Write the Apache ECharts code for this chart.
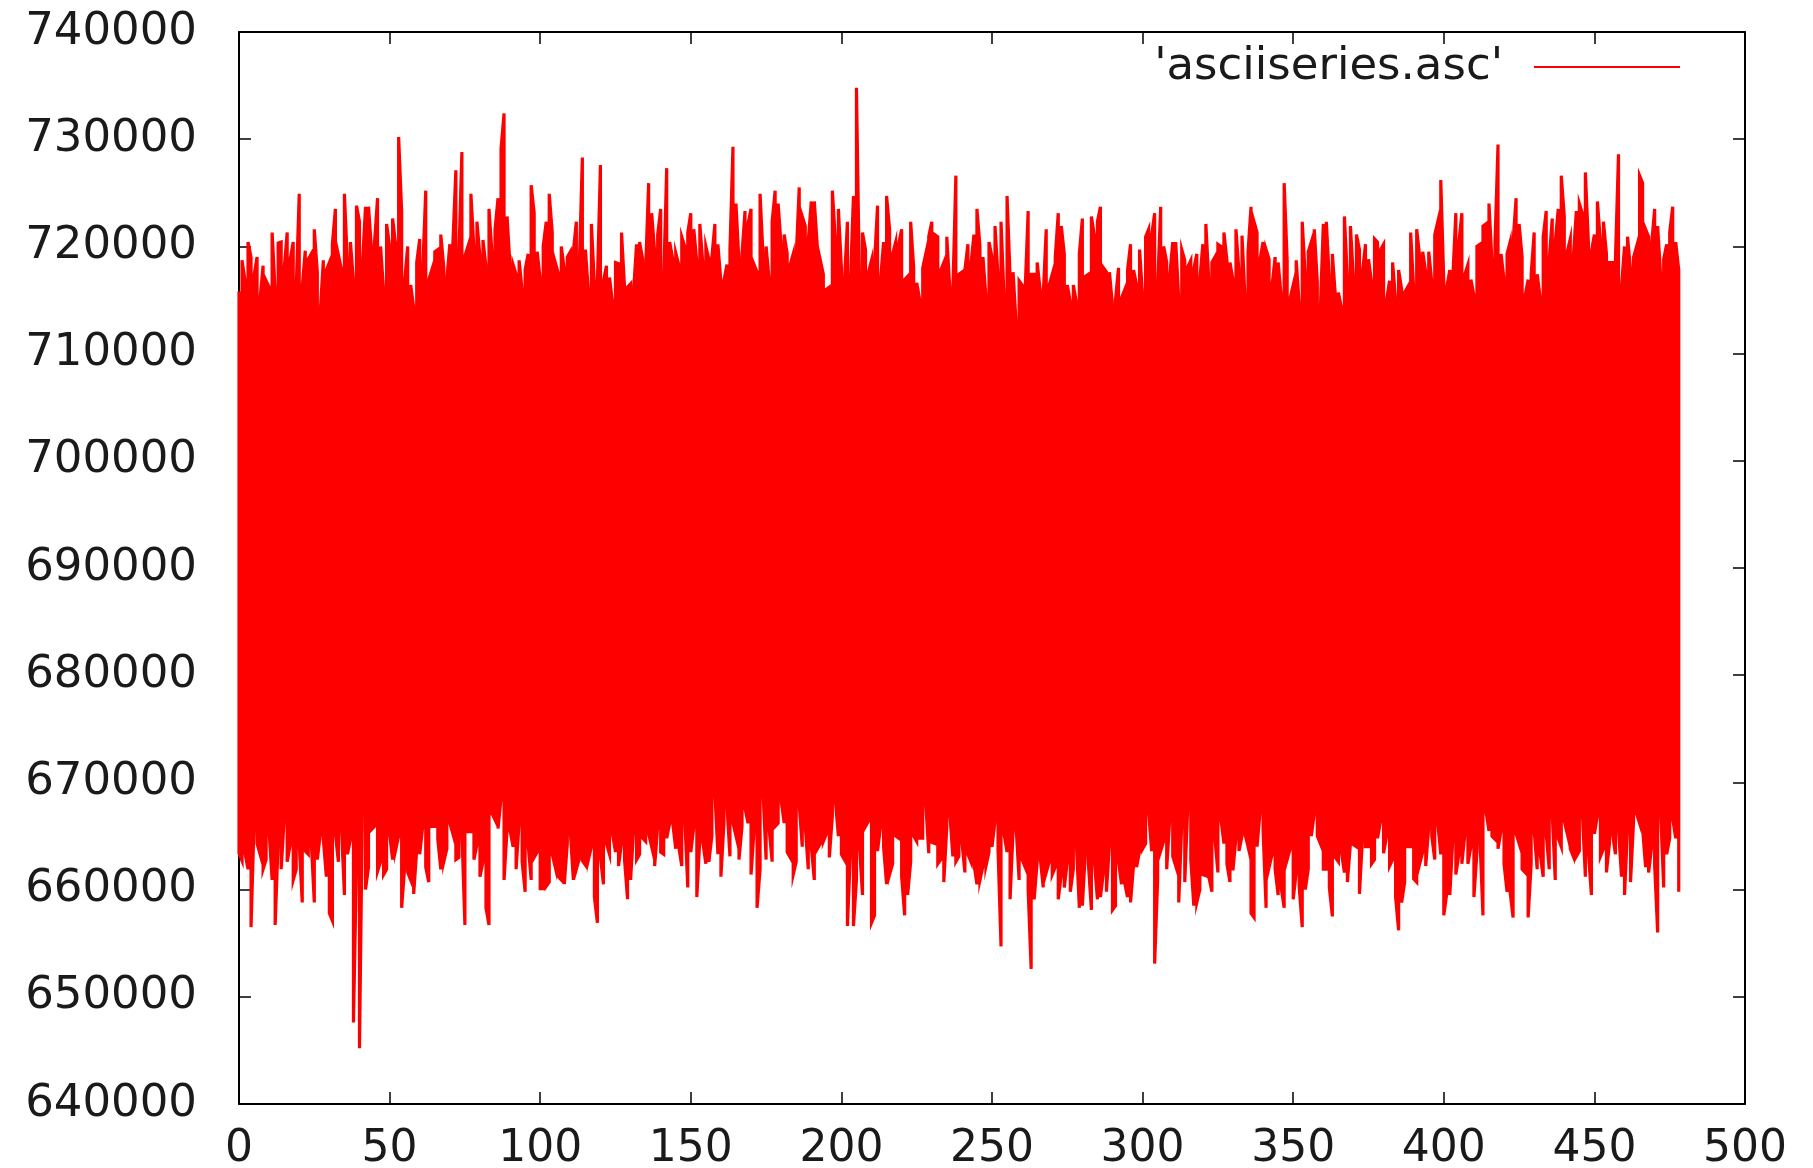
<!DOCTYPE html>
<html>
<head>
<meta charset="utf-8">
<script src="https://cdn.jsdelivr.net/npm/echarts@6/dist/echarts.min.js"></script>
<style>
  html, body { margin: 0; padding: 0; background: #ffffff; }
  #chart { width: 1813px; height: 1168px; }
</style>
</head>
<body>
<div id="chart"></div>
<script>
// ---- data (values in thousands) ----
const seriesName = "'asciiseries.asc'";
const xStart = 0;          // first sample index
const valueScale = 1000;   // arrays below are in thousands

// upper extent of the trace at each sample index 0..478
const highK = [
  715.8, 718.7, 716.8, 720.4, 719.0, 717.3, 719.0, 715.1, 718.2, 716.8,
  716.2, 721.3, 715.8, 720.3, 720.4, 717.9, 721.3, 718.8, 720.4, 716.2,
  724.9, 716.2, 719.6, 718.8, 719.3, 721.6, 717.6, 714.0, 718.7, 717.8,
  718.5, 720.2, 723.5, 719.2, 717.9, 724.9, 718.4, 720.4, 716.7, 723.8,
  722.3, 718.4, 723.7, 723.7, 719.7, 720.4, 724.5, 720.0, 715.9, 722.1,
  720.0, 722.6, 720.2, 730.2, 723.3, 716.8, 720.0, 716.4, 714.3, 718.5,
  720.7, 717.9, 725.2, 716.9, 717.8, 719.5, 719.7, 721.1, 718.0, 716.9,
  720.2, 720.2, 727.1, 719.1, 728.8, 719.1, 720.0, 724.9, 719.7, 722.3,
  719.0, 720.6, 718.1, 723.5, 719.3, 721.6, 724.5, 729.1, 732.4, 722.8,
  718.1, 718.3, 717.4, 718.7, 715.9, 717.8, 719.3, 725.7, 723.1, 719.5,
  716.9, 720.0, 722.3, 724.9, 721.3, 718.5, 717.5, 720.0, 717.9, 719.0,
  719.5, 719.5, 722.3, 718.4, 728.3, 719.7, 715.8, 722.1, 716.4, 716.8,
  727.6, 716.8, 718.2, 717.1, 714.8, 718.5, 718.4, 721.3, 716.2, 716.2,
  716.5, 715.9, 720.2, 720.4, 718.8, 717.9, 725.9, 723.1, 719.5, 721.1,
  723.5, 716.9, 727.3, 720.4, 718.8, 719.4, 718.3, 720.9, 720.0, 721.3,
  723.1, 721.6, 718.5, 722.1, 718.3, 720.0, 718.8, 719.0, 722.1, 720.2,
  716.7, 716.8, 718.3, 719.7, 729.3, 724.0, 718.5, 719.3, 723.3, 722.1,
  723.5, 718.3, 717.6, 724.9, 719.0, 720.0, 716.9, 722.3, 725.2, 724.0,
  720.0, 721.1, 719.3, 718.3, 719.3, 719.1, 725.5, 722.8, 721.9, 720.5,
  724.2, 724.2, 720.0, 718.7, 717.4, 716.0, 716.2, 725.2, 720.6, 723.5,
  718.0, 716.7, 722.3, 716.8, 724.7, 734.8, 716.5, 721.3, 719.7, 717.6,
  718.7, 718.5, 723.8, 716.9, 720.4, 724.7, 721.6, 719.3, 720.4, 720.2,
  721.6, 716.9, 717.2, 722.3, 718.0, 716.6, 715.0, 718.0, 719.3, 720.9,
  722.3, 721.1, 720.9, 717.8, 718.5, 720.9, 716.0, 715.8, 726.6, 717.4,
  717.6,
  717.8, 720.2, 718.3, 721.1, 723.5, 720.0, 719.0, 715.2, 720.4, 719.0,
  721.9, 717.2, 722.3, 715.2, 724.7, 717.2, 717.6, 712.8, 716.8, 716.4,
  715.9, 723.3, 717.4, 717.4, 718.5, 715.9, 715.4, 721.6, 716.4, 717.4,
  719.0, 723.1, 721.9, 719.3, 716.4, 714.8, 716.4, 714.8, 719.3, 722.6,
  717.2, 717.4, 722.8, 721.0, 722.3, 723.7, 718.0, 717.6, 717.6, 714.5,
  715.0, 718.0, 715.2, 715.9, 717.8, 720.2, 717.8, 716.4, 719.7, 715.4,
  720.9, 721.6, 721.0, 723.1, 716.4, 723.7, 720.0, 718.5, 717.2, 720.4,
  720.4, 715.0, 719.7, 718.7, 718.1, 718.7, 717.9, 719.3, 716.9, 720.2,
  722.1, 716.7, 718.5, 719.0, 720.2, 720.0, 721.3, 718.7, 718.5, 716.9,
  721.6, 717.6, 721.0, 715.2, 719.5, 723.7, 722.3, 721.3, 718.8, 720.4,
  719.7, 718.8, 716.4, 719.0, 718.5, 715.4, 725.9, 718.7, 715.2, 716.4,
  718.7, 714.5, 722.3, 717.2, 719.5, 720.4, 721.6, 716.7, 714.0, 722.1,
  722.3,
  716.9, 719.3, 715.4, 715.7, 714.3, 722.8, 716.9, 721.9, 716.9, 721.1,
  719.7, 717.6, 720.2, 718.8, 716.7, 720.7, 720.4, 719.7, 720.2, 715.0,
  716.8, 718.5, 715.0, 717.8, 716.0, 715.7, 716.2, 721.3, 716.0, 721.6,
  719.0, 719.5, 717.6, 719.5, 716.7, 721.1, 722.3, 726.2, 716.7, 716.2,
  717.8, 717.2, 723.1, 720.3, 723.1, 717.4, 718.3, 716.9, 715.4, 720.0,
  720.2, 721.9, 722.1, 724.0, 718.5, 720.4, 729.5, 719.3, 716.9, 719.3,
  720.4, 720.4, 724.5, 722.1, 719.0, 715.4, 716.9, 717.4, 721.3, 717.4,
  715.2, 720.9, 723.3, 718.8, 722.6, 720.4, 723.5, 726.6, 722.8, 719.5,
  720.7, 719.0, 723.3, 724.0, 723.1, 726.9, 720.4, 719.5, 721.1, 724.2,
  720.4, 722.3, 719.3, 718.5, 718.5, 719.0, 728.6, 716.2, 720.0, 720.9,
  717.8, 719.0, 720.0, 726.6, 725.9, 721.6, 720.9, 720.2, 723.5, 721.9,
  717.2, 718.8, 720.2, 721.3, 723.7, 720.4, 717.8
];

// lower extent of the trace at each sample index 0..478
const lowK = [
  663.4, 662.7, 663.4, 661.9, 656.5, 666.2, 664.3, 663.3, 661.9, 662.8,
  665.4, 660.9, 656.7, 664.4, 661.9, 666.6, 662.6, 664.2, 660.9, 661.9,
  664.2, 658.8, 663.6, 663.3, 664.4, 658.8, 662.8, 665.2, 664.7, 661.2,
  657.8, 657.1, 665.2, 662.6, 665.9, 659.5, 663.3, 664.7, 647.6, 662.3,
  645.2, 668.5, 660.0, 662.1, 665.6, 665.9, 661.7, 662.6, 661.4, 661.9,
  665.2, 662.8, 663.7, 665.0, 658.3, 662.1, 661.6, 660.9, 659.6, 663.7,
  663.3, 665.9, 662.1, 660.7, 665.9, 665.9, 664.7, 661.9, 662.6, 663.8,
  666.2, 665.2, 662.8, 663.0, 665.4, 656.7, 665.4, 665.4, 662.8, 664.2,
  661.2, 662.6, 658.3, 656.7, 667.1, 666.5, 665.7, 668.5, 660.9, 665.6,
  665.5, 664.0, 661.9, 666.3, 662.6, 659.8, 664.2, 660.9, 663.0, 663.5,
  660.1, 660.1, 660.3, 660.7, 663.3, 662.1, 661.2, 660.9, 660.5, 664.3,
  665.4, 660.9, 661.9, 662.9, 662.7, 662.3, 662.8, 664.0, 659.3, 656.9,
  663.0, 660.5, 664.3, 663.3, 665.2, 663.5, 662.2, 664.3, 662.8, 659.1,
  660.9, 665.5, 662.8, 663.3, 664.8, 664.5, 665.2, 664.0, 662.2, 665.9,
  663.5, 663.3, 664.8, 666.2, 666.2, 663.8, 664.0, 662.2, 666.6, 660.2,
  663.5, 665.9, 659.3, 664.7, 664.4, 662.4, 662.6, 665.0, 669.0, 663.3,
  661.2, 666.2, 667.9, 663.1, 666.2, 665.0, 662.8, 665.9, 667.6, 666.2,
  661.4, 665.5, 658.3, 661.9, 669.0, 662.8, 665.7, 662.6, 665.9, 666.2,
  668.3, 666.2, 663.5, 663.0, 661.4, 662.6, 667.9, 664.0, 665.9, 661.9,
  664.0, 660.9, 663.8, 664.3, 664.5, 665.2, 663.0, 666.9, 668.3, 665.0,
  663.3, 662.8, 656.6, 663.5, 656.6, 660.9, 664.0, 659.5, 665.9, 666.4,
  656.9, 657.6, 663.6, 665.9, 664.0, 660.5, 661.4, 662.4, 665.0, 664.8,
  661.2, 657.6, 659.5, 662.6, 665.0, 664.5, 664.8, 664.8, 668.1, 663.4,
  664.4, 664.3, 662.4, 662.8, 660.7, 665.9, 667.1, 663.1, 662.6, 663.1,
  664.5,
  661.6, 663.3, 662.6, 662.4, 660.5, 660.9, 662.2, 662.2, 663.5, 664.0,
  666.4, 663.8, 654.7, 665.2, 663.5, 659.1, 665.5, 665.9, 660.9, 662.8,
  662.1, 660.0, 652.6, 659.1, 662.6, 663.0, 660.2, 661.6, 662.6, 661.4,
  662.1, 659.1, 661.4, 660.2, 662.6, 659.8, 661.9, 664.3, 658.3, 658.5,
  663.5, 662.4, 658.1, 662.6, 659.1, 659.3, 661.6, 659.8, 664.3, 658.1,
  658.5, 662.6, 660.5, 660.7, 659.3, 658.8, 662.3, 662.1, 663.6, 663.8,
  664.3, 667.3, 663.6, 653.1, 660.9, 663.6, 664.5, 661.9, 666.6, 663.1,
  662.2, 658.8, 666.2, 660.7, 667.8, 662.8, 658.5, 658.8, 660.0, 661.4,
  661.3, 661.2, 659.8, 664.8, 661.6, 666.6, 664.3, 662.4, 660.7, 661.8,
  664.9, 663.6, 665.0, 665.2, 664.0, 657.8, 657.4, 664.0, 667.3, 665.5,
  658.3, 662.1, 663.3, 661.9, 659.5, 660.2, 658.3, 662.8, 663.8, 659.1,
  661.6, 660.2, 656.5, 660.0, 661.9, 665.0, 667.1, 665.0, 664.3, 661.9,
  661.9,
  660.2, 657.5, 663.0, 662.6, 663.5, 661.6, 660.7, 664.3, 664.2, 664.0,
  659.6, 664.8, 664.0, 664.0, 662.4, 662.8, 664.8, 666.4, 663.4, 665.0,
  662.2, 662.8, 659.3, 656.2, 658.8, 660.7, 664.0, 664.0, 661.0, 660.7,
  662.4, 663.5, 662.2, 665.9, 665.0, 662.8, 666.2, 663.3, 657.6, 659.7,
  659.5, 664.8, 661.4, 663.3, 662.4, 665.2, 662.4, 664.0, 659.3, 663.5,
  664.8, 657.6, 667.3, 665.5, 665.0, 664.7, 663.8, 665.5, 662.4, 659.8,
  659.8, 657.4, 665.2, 664.3, 661.9, 661.6, 657.4, 662.4, 665.5, 661.9,
  663.3, 661.2, 665.2, 661.9, 667.1, 660.9, 664.8, 664.0, 666.4, 665.2,
  663.8, 663.1, 663.1, 663.6, 667.1, 661.2, 663.5, 659.5, 665.2, 666.9,
  663.1, 663.8, 661.6, 664.3, 665.2, 663.3, 665.7, 661.2, 659.5, 665.7,
  660.7, 666.4, 667.1, 666.2, 665.7, 662.1, 661.6, 664.0, 662.3, 656.0,
  667.3, 660.2, 663.3, 664.8, 666.6, 664.8, 659.8
];

// axis ranges
const xMin = 0, xMax = 500, xStep = 50;
const yMin = 640000, yMax = 740000, yStep = 10000;

// ---- build the oscillating trace: at each index the line sweeps between low and high ----
const trace = [];
const n = Math.min(highK.length, lowK.length);
for (let i = 0; i < n; i++) {
  const x = xStart + i;
  const hi = highK[i] * valueScale;
  const lo = lowK[i] * valueScale;
  if (i % 2 === 0) { trace.push([x, hi], [x, lo]); }
  else { trace.push([x, lo], [x, hi]); }
}

const FONT = 'DejaVu Sans';
const TXT = '#1a1a1a';
const axisLineStyle = { color: '#000', width: 2 };
const tickStyle = { color: '#000', width: 1.5 };

const chart = echarts.init(document.getElementById('chart'), null, { renderer: 'canvas' });
chart.setOption({
  animation: false,
  backgroundColor: '#ffffff',
  grid: { left: 239, right: 68, top: 32, bottom: 64, containLabel: false, outerBoundsMode: 'none' },
  legend: {
    show: true,
    data: [{ name: seriesName, icon: 'rect' }],
    right: 128,
    top: 34,
    align: 'right',
    itemWidth: 146,
    itemHeight: 2,
    textStyle: { fontFamily: FONT, fontSize: 45, lineHeight: 44, color: TXT, padding: [0, 26, 12, 0] }
  },
  xAxis: [
    {
      type: 'value', min: xMin, max: xMax, interval: xStep, position: 'bottom',
      axisLine: { show: true, onZero: false, lineStyle: axisLineStyle },
      axisTick: { show: true, inside: true, length: 12, lineStyle: tickStyle },
      axisLabel: { show: true, fontFamily: FONT, fontSize: 44, color: TXT, margin: 24,
                   formatter: v => String(v) },
      splitLine: { show: false }
    },
    {
      type: 'value', min: xMin, max: xMax, interval: xStep, position: 'top',
      axisLine: { show: true, onZero: false, lineStyle: axisLineStyle },
      axisTick: { show: true, inside: true, length: 12, lineStyle: tickStyle },
      axisLabel: { show: false },
      splitLine: { show: false }
    }
  ],
  yAxis: [
    {
      type: 'value', min: yMin, max: yMax, interval: yStep, position: 'left',
      axisLine: { show: true, onZero: false, lineStyle: axisLineStyle },
      axisTick: { show: true, inside: true, length: 12, lineStyle: tickStyle },
      axisLabel: { show: true, fontFamily: FONT, fontSize: 45, color: TXT, margin: 42,
                   formatter: v => String(v) },
      splitLine: { show: false }
    },
    {
      type: 'value', min: yMin, max: yMax, interval: yStep, position: 'right',
      axisLine: { show: true, onZero: false, lineStyle: axisLineStyle },
      axisTick: { show: true, inside: true, length: 12, lineStyle: tickStyle },
      axisLabel: { show: false },
      splitLine: { show: false }
    }
  ],
  series: [
    {
      name: seriesName,
      type: 'line',
      xAxisIndex: 0,
      yAxisIndex: 0,
      data: trace,
      symbol: 'none',
      showSymbol: false,
      smooth: false,
      clip: true,
      color: '#ff0000',
      lineStyle: { color: '#ff0000', width: 3.2, join: 'miter' },
      z: 1
    }
  ]
});
</script>
</body>
</html>
